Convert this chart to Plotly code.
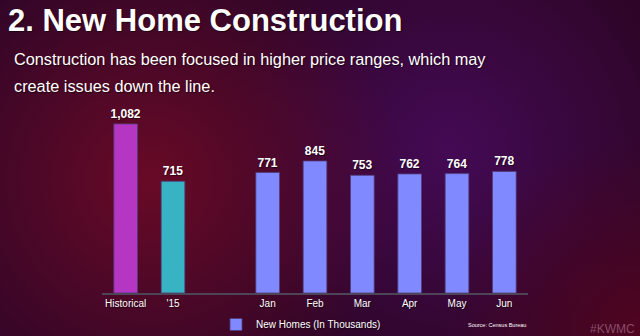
import base64
import plotly.graph_objects as go

# ---- data ----
categories = ["Historical", "'15", " ", "Jan", "Feb", "Mar", "Apr", "May", "Jun"]
hist_cat = ["Historical"]
hist_val = [1082]
y15_cat = ["'15"]
y15_val = [715]
month_cat = ["Jan", "Feb", "Mar", "Apr", "May", "Jun"]
month_val = [771, 845, 753, 762, 764, 778]

W, H = 640, 336
ML, MR, MT, MB = 102, 112, 110, 43
PW, PH = W - ML - MR, H - MT - MB


def px(x):
    return (x - ML) / PW


def py(y):
    return (H - MB - y) / PH


SANS = "Liberation Sans, Arial, sans-serif"
SHADOW = "1px 1px 1px rgba(0,0,0,0.55)"

svg = f"""<svg xmlns='http://www.w3.org/2000/svg' width='{W}' height='{H}' viewBox='0 0 {W} {H}'>
<defs>
<radialGradient id='r1' cx='150' cy='180' r='250' gradientUnits='userSpaceOnUse'>
<stop offset='0' stop-color='#680a26' stop-opacity='1'/>
<stop offset='1' stop-color='#680a26' stop-opacity='0'/>
</radialGradient>
<radialGradient id='r2' cx='450' cy='150' r='230' gradientUnits='userSpaceOnUse'>
<stop offset='0' stop-color='#440a55' stop-opacity='1'/>
<stop offset='1' stop-color='#440a55' stop-opacity='0'/>
</radialGradient>
<radialGradient id='r3' cx='640' cy='336' r='200' gradientUnits='userSpaceOnUse'>
<stop offset='0' stop-color='#500520' stop-opacity='1'/>
<stop offset='1' stop-color='#500520' stop-opacity='0'/>
</radialGradient>
</defs>
<rect width='{W}' height='{H}' fill='#2e0528'/>
<rect width='{W}' height='{H}' fill='url(#r2)'/>
<rect width='{W}' height='{H}' fill='url(#r1)'/>
<rect width='{W}' height='{H}' fill='url(#r3)'/>
</svg>"""
bg_src = "data:image/svg+xml;base64," + base64.b64encode(svg.encode()).decode()

label_font = dict(family=SANS, size=12, color="white", weight="bold", shadow=SHADOW)
outline = dict(color="rgba(80,60,120,0.8)", width=1)


def bar(xs, ys, color, name=None, legend=False):
    return go.Bar(x=xs, y=ys, name=name, marker=dict(color=color, line=outline),
                  width=0.5, texttemplate="%{y:,}", textposition="outside",
                  constraintext="none", textfont=label_font, showlegend=legend,
                  cliponaxis=False)


fig = go.Figure()
fig.add_trace(bar(hist_cat, hist_val, "#b436c2"))
fig.add_trace(bar(y15_cat, y15_val, "#37b3c4"))
fig.add_trace(bar(month_cat, month_val, "#8089ff", "New Homes (In Thousands)", True))

fig.update_layout(
    width=W, height=H,
    margin=dict(l=ML, r=MR, t=MT, b=MB, pad=0, autoexpand=False),
    paper_bgcolor="#2e0528",
    plot_bgcolor="rgba(0,0,0,0)",
    barmode="overlay",
    showlegend=True,
    legend=dict(x=px(216), y=py(324.5), xanchor="left", yanchor="middle",
                orientation="h", bgcolor="rgba(0,0,0,0)",
                font=dict(family=SANS, size=10, color="white", shadow=SHADOW),
                itemwidth=30),
    images=[dict(source=bg_src, xref="paper", yref="paper",
                 x=px(0), y=py(0), sizex=W / PW, sizey=H / PH,
                 xanchor="left", yanchor="top", sizing="stretch", layer="below")],
    xaxis=dict(type="category", categoryorder="array", categoryarray=categories,
               range=[-0.5, len(categories) - 0.5], showgrid=False, zeroline=False,
               showline=True, linecolor="#4d4458", linewidth=2, ticks="",
               tickfont=dict(family=SANS, size=10, color="white", shadow=SHADOW),
               fixedrange=True),
    yaxis=dict(range=[0, 1171], visible=False, fixedrange=True),
    annotations=[
        dict(text="<b>2. New Home Construction</b>", x=px(6), y=py(21), xref="paper", yref="paper",
             xanchor="left", yanchor="middle", showarrow=False,
             font=dict(family=SANS, size=31, color="white", shadow=SHADOW)),
        dict(text="Construction has been focused in higher price ranges, which may",
             x=px(12), y=py(59), xref="paper", yref="paper",
             xanchor="left", yanchor="middle", showarrow=False,
             font=dict(family=SANS, size=16.3, color="white", shadow=SHADOW)),
        dict(text="create issues down the line.",
             x=px(12), y=py(86), xref="paper", yref="paper",
             xanchor="left", yanchor="middle", showarrow=False,
             font=dict(family=SANS, size=16.3, color="white", shadow=SHADOW)),
        dict(text="Source: Census Bureau", x=px(528), y=py(325), xref="paper", yref="paper",
             xanchor="right", yanchor="middle", showarrow=False,
             font=dict(family=SANS, size=5.5, color="white")),
        dict(text="#KWMC", x=px(588), y=py(329), xref="paper", yref="paper",
             xanchor="left", yanchor="middle", showarrow=False,
             font=dict(family=SANS, size=12, color="rgba(190,140,165,0.55)")),
    ],
)

fig.write_html("out.html")
